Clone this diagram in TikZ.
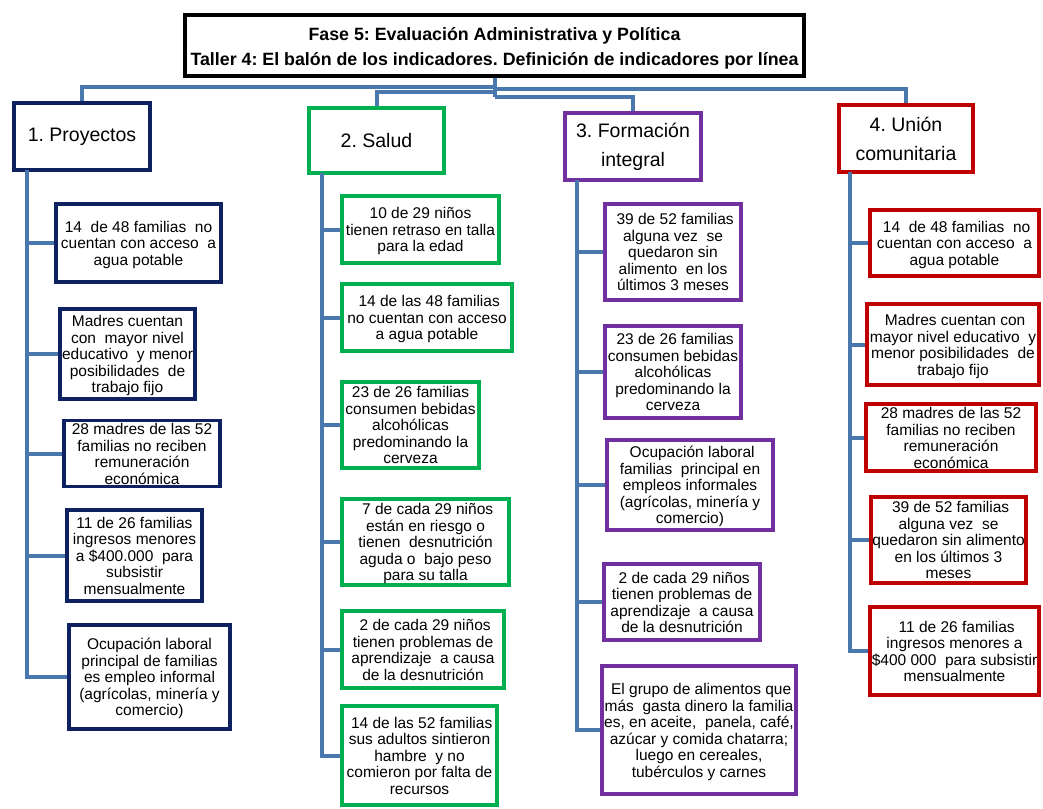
\documentclass[tikz,border=0pt]{standalone}
\usepackage{fontspec}
\setmainfont{Liberation Sans}
\frenchspacing
\definecolor{lineblue}{HTML}{4A78AE}
\definecolor{navy}{HTML}{0E2262}
\definecolor{sgreen}{HTML}{00B050}
\definecolor{spurple}{HTML}{7030A0}
\definecolor{sred}{HTML}{C00000}
\newcommand\bodyfont{\fontsize{15.5}{16.5}\selectfont}
\newcommand\headfont{\fontsize{19.5}{29}\selectfont}
\newcommand\titlefont{\bfseries\fontsize{17.8}{25.5}\selectfont}
% centred stack of fixed lines that never widens its box,
% lowered a little while keeping its nominal height and depth
\newsavebox\linesbox
\newcommand\lines[1]{\sbox\linesbox{\begin{tabular}{@{}c@{}}#1\end{tabular}}%
  \makebox[0pt]{\raisebox{-2.5pt}[\ht\linesbox][\dp\linesbox]{\usebox\linesbox}}}
\tikzset{
  conn/.style={draw=lineblue, line width=4pt},
  ibox/.style={draw, line width=3.6pt, fill=white, inner sep=0pt, font=\bodyfont},
  hbox/.style={draw, line width=4pt, fill=white, inner sep=0pt, align=center, font=\headfont},
}
\begin{document}
\begin{tikzpicture}[x=1pt, y=-1pt]
\useasboundingbox[fill=white] (0,0) rectangle (1043,808);

% title
\node[draw=black, line width=4pt, fill=white, inner sep=0pt, font=\titlefont,
      minimum width=619pt, minimum height=61pt] (T) at (494.5,45.5)
  {\lines{Fase 5: Evaluación Administrativa y Política\\Taller 4: El balón de los indicadores. Definición de indicadores por línea}};

% line headers
\node[hbox, draw=navy, minimum width=136pt, minimum height=67pt] (H1) at (82,136.5) {1. Proyectos};
\node[hbox, draw=sgreen, minimum width=135pt, minimum height=65pt] (H2) at (376.5,140.5) {2. Salud};
\node[hbox, draw=spurple, minimum width=136pt, minimum height=67pt] (H3) at (633,146.5) {3. Formación\\integral};
\node[hbox, draw=sred, minimum width=134pt, minimum height=67pt] (H4) at (906,138.5) {4. Unión\\comunitaria};

% 1. Proyectos
\node[ibox, draw=navy, minimum width=165pt, minimum height=78pt] (a1) at (138.5,243)
  {\lines{14\ \ de 48 familias\ \ no\\cuentan con acceso\ \ a\\agua potable}};
\node[ibox, draw=navy, minimum width=135pt, minimum height=90pt] (a2) at (127.5,354)
  {\lines{Madres cuentan\\con\ \ mayor nivel\\educativo\ \ y menor\\posibilidades\ \ de\\trabajo fijo}};
\node[ibox, draw=navy, minimum width=156pt, minimum height=65pt] (a3) at (142,453.5)
  {\lines{28 madres de las 52\\familias no reciben\\remuneración\\económica}};
\node[ibox, draw=navy, minimum width=135pt, minimum height=91pt] (a4) at (134.5,555.5)
  {\lines{11 de 26 familias\\ingresos menores\\a \$400.000\ \ para\\subsistir\\mensualmente}};
\node[ibox, draw=navy, minimum width=161pt, minimum height=104pt] (a5) at (149.5,677)
  {\lines{Ocupación laboral\\principal de familias\\es empleo informal\\(agrícolas, minería y\\comercio)}};

% 2. Salud
\node[ibox, draw=sgreen, minimum width=157pt, minimum height=67pt] (s1) at (420.5,229.5)
  {\lines{10 de 29 niños\\tienen retraso en talla\\para la edad}};
\node[ibox, draw=sgreen, minimum width=170pt, minimum height=67pt] (s2) at (427,317.5)
  {\lines{\ 14 de las 48 familias\\no cuentan con acceso\\a agua potable}};
\node[ibox, draw=sgreen, minimum width=137pt, minimum height=86pt] (s3) at (410.5,425)
  {\lines{23 de 26 familias\\consumen bebidas\\alcohólicas\\predominando la\\cerveza}};
\node[ibox, draw=sgreen, minimum width=167pt, minimum height=86pt] (s4) at (425.5,542)
  {\lines{\ 7 de cada 29 niños\\están en riesgo o\\tienen\ \ desnutrición\\aguda o\ \ bajo peso\\para su talla}};
\node[ibox, draw=sgreen, minimum width=162pt, minimum height=77pt] (s5) at (423,649.5)
  {\lines{\ 2 de cada 29 niños\\tienen problemas de\\aprendizaje\ \ a causa\\de la desnutrición}};
\node[ibox, draw=sgreen, minimum width=155pt, minimum height=99pt] (s6) at (419.5,755.5)
  {\lines{\ 14 de las 52 familias\\sus adultos sintieron\\hambre\ \ y no\\comieron por falta de\\recursos}};

% 3. Formación integral
\node[ibox, draw=spurple, minimum width=136pt, minimum height=96pt] (f1) at (673,252)
  {\lines{\ 39 de 52 familias\\alguna vez\ \ se\\quedaron sin\\alimento\ \ en los\\últimos 3 meses}};
\node[ibox, draw=spurple, minimum width=136pt, minimum height=92pt] (f2) at (673,372)
  {\lines{\ 23 de 26 familias\\consumen bebidas\\alcohólicas\\predominando la\\cerveza}};
\node[ibox, draw=spurple, minimum width=166pt, minimum height=90pt] (f3) at (690,485)
  {\lines{\ Ocupación laboral\\familias\ \ principal en\\empleos informales\\(agrícolas, minería y\\comercio)}};
\node[ibox, draw=spurple, minimum width=156pt, minimum height=76pt] (f4) at (682,602)
  {\lines{\ 2 de cada 29 niños\\tienen problemas de\\aprendizaje\ \ a causa\\de la desnutrición}};
\node[ibox, draw=spurple, minimum width=194pt, minimum height=128pt] (f5) at (699,730)
  {\lines{\ El grupo de alimentos que\\más\ \ gasta dinero la familia\\es, en aceite,\ \ panela, café,\\azúcar y comida chatarra;\\luego en cereales,\\tubérculos y carnes}};

% 4. Unión comunitaria
\node[ibox, draw=sred, minimum width=169pt, minimum height=66pt] (u1) at (954.5,243)
  {\lines{\ 14\ \ de 48 familias\ \ no\\cuentan con acceso\ \ a\\agua potable}};
\node[ibox, draw=sred, minimum width=172pt, minimum height=81pt] (u2) at (953,344.5)
  {\lines{\ Madres cuentan con\\mayor nivel educativo\ \ y\\menor posibilidades\ \ de\\trabajo fijo}};
\node[ibox, draw=sred, minimum width=170pt, minimum height=67pt] (u3) at (951,437.5)
  {\lines{28 madres de las 52\\familias no reciben\\remuneración\\económica}};
\node[ibox, draw=sred, minimum width=155pt, minimum height=86pt] (u4) at (948.5,540)
  {\lines{\ 39 de 52 familias\\alguna vez\ \ se\\quedaron sin alimento\\en los últimos 3\\meses}};
\node[ibox, draw=sred, minimum width=169pt, minimum height=88pt] (u5) at (954.5,651)
  {\lines{\ 11 de 26 familias\\ingresos menores a\\\$400 000\ \ para subsistir\\mensualmente}};

% connectors from the title to the headers
\coordinate (j1) at (494.5,87);
\coordinate (j2) at (494.5,89);
\coordinate (j3) at (494.5,92);
\coordinate (j4) at (494.5,97);
\draw[conn] (T.south) -- (j4);
\draw[conn] (H1.north) |- (j1);
\draw[conn] (H4.north) |- (j2);
\draw[conn] (H2.north) |- (j3);
\draw[conn] (H3.north) |- (j4);

% column trunks and branches
\coordinate (k1) at (27,170);
\coordinate (k2) at (322,173);
\coordinate (k3) at (577,180);
\coordinate (k4) at (850,172);
\draw[conn] (k1) |- (a5.west);
\foreach \b in {a1,a2,a3,a4} \draw[conn] (k1 |- \b.west) -- (\b.west);
\draw[conn] (k2) |- (s6.west);
\foreach \b in {s1,s2,s3,s4,s5} \draw[conn] (k2 |- \b.west) -- (\b.west);
\draw[conn] (k3) |- (f5.west);
\foreach \b in {f1,f2,f3,f4} \draw[conn] (k3 |- \b.west) -- (\b.west);
\draw[conn] (k4) |- (u5.west);
\foreach \b in {u1,u2,u3,u4} \draw[conn] (k4 |- \b.west) -- (\b.west);
\end{tikzpicture}
\end{document}
